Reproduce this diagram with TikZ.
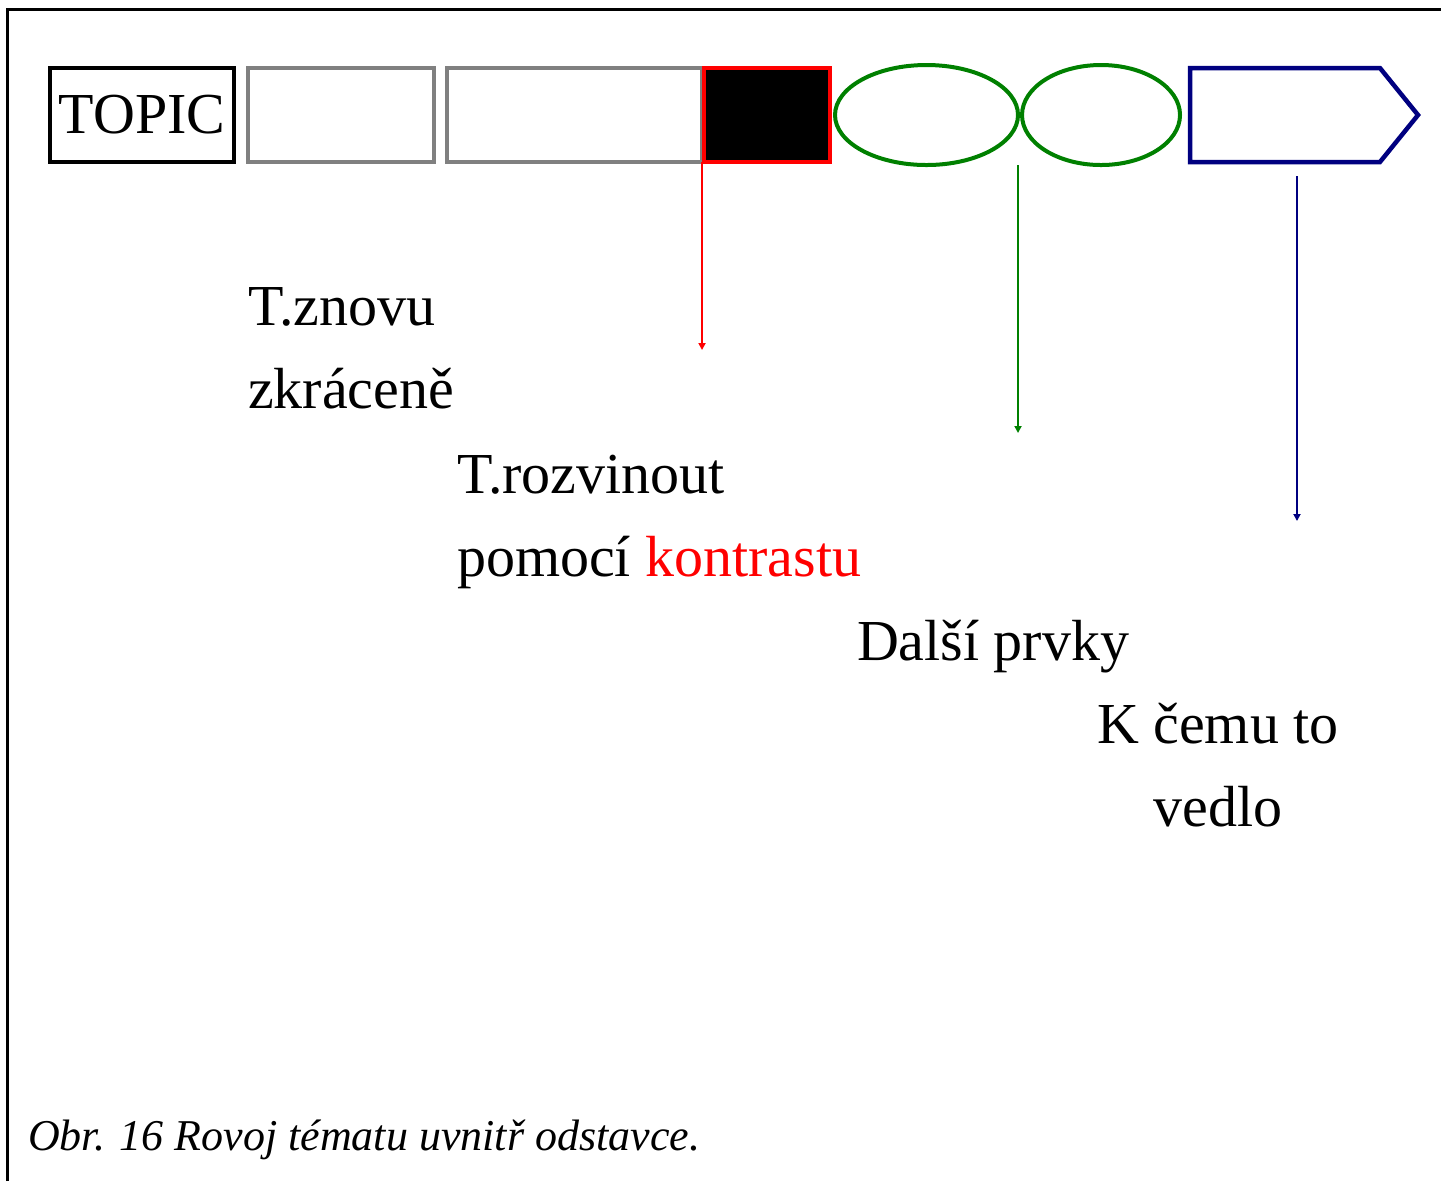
\documentclass[tikz,border=0pt]{standalone}
\usepackage{fontspec}
\setmainfont{Liberation Serif}
\usetikzlibrary{
  	positioning,
  	arrows.meta,
  	shapes.geometric,
  	shapes.symbols,
  	calc
  }
\newdimen\px \px=0.25pt

\begin{document}
\begin{tikzpicture}[x=\px, y=\px, every node/.style={inner sep=0pt, outer sep=0pt},
  part/.style={draw, line width=4.5\px, minimum height=94\px},
  oval/.style={draw=green!50!black, ellipse, line width=4\px, minimum height=100\px},
  txt/.style={font=\fontsize{14.5}{20.75}\selectfont, anchor=base west},
  pointer/.style={-{Triangle[length=1.75pt, width=1.75pt]}, line width=2\px}]
	\useasboundingbox (0,0) rectangle (1441,-1181);
	\draw[line width=3\px] (7,-1181) -- (7,-9) -- (1441,-9);
%
	\node[part, minimum width=184\px, font=\fontsize{14.5}{17}\selectfont] (topic) at (142,-115) {TOPIC};
	\node[part, draw=gray, minimum width=186\px, right=14\px of topic] (empty1) {};
	\node[part, draw=gray, minimum width=255\px, right=13\px of empty1] (empty2) {};
	\node[part, draw=red, fill=black, minimum width=126\px, right=2\px of empty2] (contrast) {};
	\node[oval, minimum width=183\px, right=5\px of contrast] (more1) {};
	\node[oval, minimum width=158\px, right=4\px of more1] (more2) {};
	\node[part, draw=blue!50!black, signal, signal to=east, signal pointer angle=102,
	  minimum width=228\px, right=10\px of more2] (result) {};
%
	\coordinate[below=188\px of empty2.south east] (redend);
	\coordinate (greentop) at (more1.east |- more1.south);
	\coordinate[below=268\px of greentop] (greenend);
	\coordinate (bluetop) at ([shift={(12,-14)}]result.south);
	\coordinate[below=345\px of bluetop] (blueend);
	\draw[pointer, red] (empty2.south east) -- (redend);
	\draw[pointer, green!50!black] (greentop) -- (greenend);
	\draw[pointer, blue!50!black] (bluetop) -- (blueend);
%
	\node[txt, align=left] (again) at (248,-408) {T.znovu\\zkráceně};
	\node[txt, align=left] (develop) at (457,-576) {T.rozvinout\\pomocí \textcolor{red}{kontrastu}};
	\node[txt] (others) at (857,-660) {Další prvky};
	\node[txt, align=center] (outcome) at (1097,-826) {K čemu to\\vedlo};
	\node[font=\fontsize{11}{13}\selectfont\itshape, anchor=base west] (caption) at (28,-1150)
	  {Obr. 16 Rovoj tématu uvnitř odstavce.};
\end{tikzpicture}
\end{document}
